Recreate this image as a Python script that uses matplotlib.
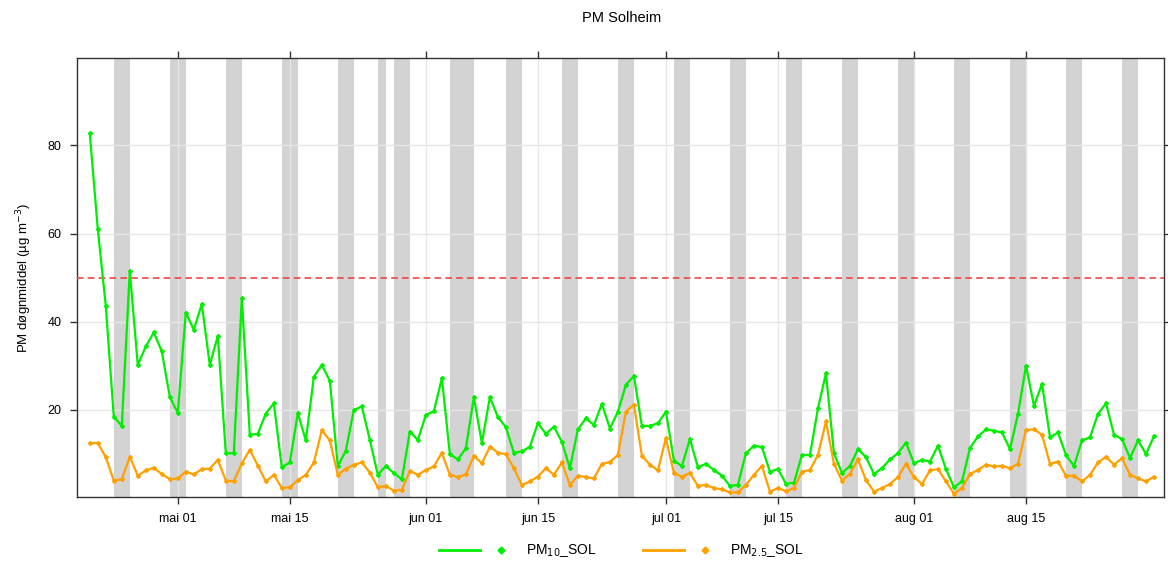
import numpy as np
import matplotlib
matplotlib.use('Agg')
import matplotlib.pyplot as plt
import matplotlib.dates as mdates
from matplotlib.lines import Line2D
from matplotlib.legend_handler import HandlerTuple
from datetime import datetime, timedelta

plt.rcParams['font.family'] = ['Liberation Sans', 'DejaVu Sans']

# Døgnmiddel PM10 og PM2.5, Solheim, 20. april - 31. august 2022
start = datetime(2022, 4, 20)

pm10_apr = [82.7, 61.0, 43.6, 18.5, 16.4, 51.5, 30.2, 34.4, 37.6, 33.3, 23.0]
pm10_mai = [19.3, 42.1, 38.2, 44.0, 30.2, 36.8, 10.2, 10.2, 45.3, 14.4, 14.6, 19.2, 21.5, 7.0, 8.1, 19.3,
            13.1, 27.5, 30.2, 26.6, 7.2, 10.8, 20.0, 20.8, 13.2, 5.3, 7.3, 5.7, 4.3, 15.1, 13.2]
pm10_jun = [18.9, 19.7, 27.2, 10.0, 8.8, 11.3, 22.9, 12.5, 22.9, 18.4, 16.1, 10.3, 10.6, 11.7, 17.0,
            14.6, 16.2, 12.8, 6.8, 15.6, 18.1, 16.6, 21.4, 15.8, 19.6, 25.7, 27.7, 16.4, 16.4, 17.0]
pm10_jul = [19.6, 8.5, 7.3, 13.4, 7.0, 7.8, 6.4, 5.1, 2.8, 3.0, 10.2, 11.9, 11.6, 6.0, 6.6, 3.3,
            3.5, 9.8, 9.8, 20.4, 28.3, 10.2, 5.7, 7.3, 11.1, 9.3, 5.5, 6.8, 8.8, 10.2, 12.6]
pm10_aug = [7.9, 8.7, 8.3, 11.9, 6.6, 2.5, 3.8, 11.4, 14.0, 15.6, 15.3, 14.9, 11.1, 19.1, 30.0, 20.9,
            25.9, 13.8, 14.9, 9.8, 7.3, 13.1, 13.8, 19.1, 21.5, 14.4, 13.4, 9.1, 13.1, 10.0, 14.1]

pm25_apr = [12.5, 12.5, 9.3, 4.0, 4.3, 9.4, 5.1, 6.3, 6.9, 5.5, 4.3]
pm25_mai = [4.5, 6.0, 5.4, 6.6, 6.7, 8.7, 4.0, 3.8, 7.9, 11.0, 7.4, 3.8, 5.3, 2.3, 2.5, 4.1,
            5.3, 8.1, 15.4, 13.1, 5.3, 6.7, 7.6, 8.1, 5.8, 2.5, 2.8, 1.7, 1.9, 6.2, 5.3]
pm25_jun = [6.4, 7.2, 10.3, 5.3, 4.8, 5.4, 9.6, 7.9, 11.7, 10.3, 10.0, 6.8, 3.0, 3.8, 4.9,
            6.8, 5.3, 8.1, 3.0, 5.1, 4.8, 4.5, 7.8, 8.2, 9.8, 19.6, 21.2, 9.6, 7.6, 6.3]
pm25_jul = [13.6, 5.7, 4.9, 5.7, 2.8, 3.0, 2.3, 2.0, 1.3, 1.3, 3.0, 5.3, 7.3, 1.5, 2.3, 1.6,
            2.3, 6.0, 6.4, 9.8, 17.4, 7.8, 4.0, 5.5, 8.8, 4.1, 1.5, 2.3, 3.2, 4.8, 7.8]
pm25_aug = [4.8, 3.2, 6.3, 6.6, 3.8, 1.0, 2.3, 5.5, 6.4, 7.6, 7.2, 7.3, 6.8, 7.8, 15.5, 15.6,
            14.4, 7.8, 8.3, 5.1, 5.1, 3.8, 5.3, 8.1, 9.4, 7.6, 9.1, 5.3, 4.5, 3.8, 4.9]

pm10 = pm10_apr + pm10_mai + pm10_jun + pm10_jul + pm10_aug
pm25 = pm25_apr + pm25_mai + pm25_jun + pm25_jul + pm25_aug
dager = [start + timedelta(days=i) for i in range(len(pm10))]

# helligdager (i tillegg til helger)
helligdager = [datetime(2022, 5, 26), datetime(2022, 6, 6)]
grenseverdi = 50
maaneder = ['jan', 'feb', 'mar', 'apr', 'mai', 'jun', 'jul', 'aug', 'sep', 'okt', 'nov', 'des']
tick_dager = [datetime(2022, m, d) for m in (5, 6, 7, 8) for d in (1, 15)]

gronn = '#00ee00'
oransje = '#ffa000'

fig = plt.figure(figsize=(11.68, 5.61), dpi=100)
ax = fig.add_axes([0.0659, 0.1135, 0.9307, 0.7831])

# grå felt for helg og helligdager
d = start - timedelta(days=7)
while d < dager[-1] + timedelta(days=7):
    if d.weekday() == 5:
        ax.axvspan(d, d + timedelta(days=2), color='#d3d3d3', lw=0, zorder=0.2)
    d += timedelta(days=1)
for h in helligdager:
    ax.axvspan(h, h + timedelta(days=1), color='#d3d3d3', lw=0, zorder=0.2)

ax.axhline(grenseverdi, color='#f04545', lw=1.2, ls=(0, (4, 2.5)), zorder=3)

ax.plot(dager, pm10, color=gronn, lw=1.6, marker='D', ms=2.0, zorder=4)
ax.plot(dager, pm25, color=oransje, lw=1.6, marker='D', ms=2.0, zorder=4)

x0 = mdates.date2num(datetime(2022, 5, 1))
ax.set_xlim(x0 - 12.6, x0 + 123.25)
ax.set_ylim(0.2, 99.8)
ax.set_xticks(tick_dager)
ax.set_xticklabels([f'{maaneder[t.month - 1]} {t.day:02d}' for t in tick_dager])
ax.set_yticks([20, 40, 60, 80])

ax.set_axisbelow(True)
ax.grid(True, color='#e6e6e6', lw=1)
ax.tick_params(direction='out', length=5, width=1, top=True, right=True,
               labelsize=9, colors='#333333', labelcolor='black', pad=6)
for s in ax.spines.values():
    s.set_color('#333333')
    s.set_linewidth(1)

ax.set_ylabel('PM døgnmiddel (µg m$^{-3}$)', fontsize=9.5, labelpad=10)
fig.text(0.532, 0.968, 'PM Solheim', ha='center', va='center', fontsize=10.5)

h10 = (Line2D([], [], color=gronn, lw=2), Line2D([], [], color=gronn, ls='', marker='D', ms=3.5))
h25 = (Line2D([], [], color=oransje, lw=2), Line2D([], [], color=oransje, ls='', marker='D', ms=3.5))
fig.legend([h10, h25], ['PM$_{10}$_SOL', 'PM$_{2.5}$_SOL'], loc='center',
           bbox_to_anchor=(0.532, 0.018), ncol=2, frameon=False, fontsize=10,
           handler_map={tuple: HandlerTuple(ndivide=None, pad=0)},
           handlelength=6, handletextpad=0.3, columnspacing=3.3)

fig.savefig('out.png', dpi=100)
